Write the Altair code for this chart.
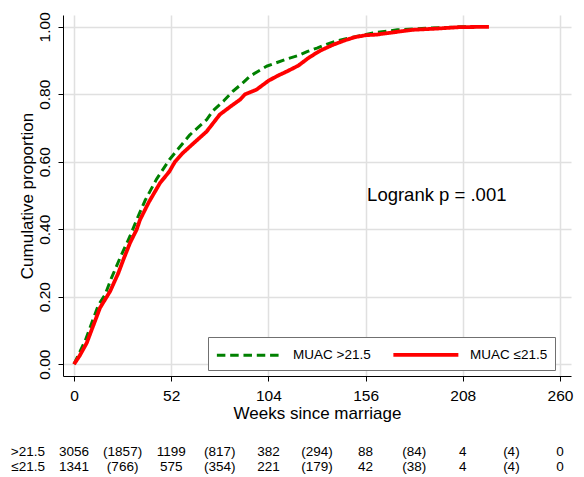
import altair as alt
import pandas as pd

groups = ["MUAC >21.5", "MUAC \u226421.5"]

green_weeks = [0, 3, 6, 10, 13, 16.6, 20, 25, 30, 33.5, 38, 44, 51, 56, 62, 67, 71, 74.5, 80, 85,
               90, 94, 99, 103, 108, 114, 120, 125, 130, 135, 140, 145, 150, 155, 160, 166, 173,
               182, 190, 200, 207, 215]
green_prop = [0, 0.035, 0.07, 0.13, 0.175, 0.206, 0.255, 0.32, 0.38, 0.428, 0.485, 0.547, 0.606,
              0.64, 0.68, 0.705, 0.725, 0.752, 0.78, 0.809, 0.832, 0.853, 0.87, 0.883, 0.893,
              0.905, 0.915, 0.927, 0.937, 0.948, 0.957, 0.964, 0.97, 0.976, 0.982, 0.986, 0.991,
              0.994, 0.996, 0.998, 1.0, 1.0]

red_weeks = [0, 3, 6.8, 10, 13.9, 19.3, 23.7, 26.4, 30, 33.5, 35.3, 40, 46, 51, 54, 58, 62, 67,
             71, 78, 84, 88.8, 91.5, 97.7, 104, 109, 114, 120, 126, 132, 138.7, 145, 150, 156,
             162, 170, 181, 195, 206, 222]
red_prop = [0, 0.025, 0.063, 0.11, 0.167, 0.216, 0.27, 0.31, 0.36, 0.399, 0.428, 0.48, 0.537,
            0.571, 0.6, 0.625, 0.645, 0.67, 0.69, 0.74, 0.765, 0.784, 0.8, 0.814, 0.84, 0.855,
            0.868, 0.885, 0.91, 0.93, 0.947, 0.96, 0.969, 0.975, 0.977, 0.983, 0.991, 0.995,
            0.999, 1.0]

x_ticks = [0, 52, 104, 156, 208, 260]
y_ticks = [0, 0.2, 0.4, 0.6, 0.8, 1.0]

risk_weeks = [0, 26, 52, 78, 104, 130, 156, 182, 208, 234, 260]
risk_row1 = ["3056", "(1857)", "1199", "(817)", "382", "(294)", "88", "(84)", "4", "(4)", "0"]
risk_row2 = ["1341", "(766)", "575", "(354)", "221", "(179)", "42", "(38)", "4", "(4)", "0"]

annot_text = ["Logrank p = .001"]
annot_x = [156.8]
annot_y = [0.502]

FONT = "Liberation Sans"
XDOM = [-5.9, 265.9]
YDOM = [-0.035, 1.035]

curve_df = pd.concat([
    pd.DataFrame({"weeks": green_weeks, "prop": green_prop, "group": groups[0]}),
    pd.DataFrame({"weeks": red_weeks, "prop": red_prop, "group": groups[1]}),
], ignore_index=True)

xscale = alt.Scale(domain=XDOM, nice=False, zero=False)
yscale = alt.Scale(domain=YDOM, nice=False, zero=False)

lines = alt.Chart(curve_df).mark_line(strokeJoin="round").encode(
    x=alt.X("weeks:Q", scale=xscale,
            axis=alt.Axis(values=x_ticks, title="Weeks since marriage", labelPadding=7,
                          titlePadding=2)),
    y=alt.Y("prop:Q", scale=yscale,
            axis=alt.Axis(values=y_ticks, format=".2f", title="Cumulative proportion",
                          labelAngle=270, labelAlign="center", labelBaseline="bottom",
                          labelPadding=6, titlePadding=1)),
    color=alt.Color("group:N", scale=alt.Scale(domain=groups, range=["#008000", "#ff0000"]),
                    legend=alt.Legend(title=None)),
    strokeDash=alt.StrokeDash("group:N", scale=alt.Scale(domain=groups, range=[[8.5, 4.8], [1, 0]]),
                              legend=alt.Legend(title=None)),
    strokeWidth=alt.StrokeWidth("group:N", scale=alt.Scale(domain=groups, range=[3, 3.8]),
                                legend=None),
    order="weeks:Q",
)

annot_df = pd.DataFrame({"weeks": annot_x, "prop": annot_y, "text": annot_text})
annot = alt.Chart(annot_df).mark_text(align="left", baseline="middle", fontSize=18.5,
                                      font=FONT, color="black").encode(
    x="weeks:Q", y="prop:Q", text="text:N")

r1_df = pd.DataFrame({"weeks": risk_weeks, "label": risk_row1})
r2_df = pd.DataFrame({"weeks": risk_weeks, "label": risk_row2})
row1 = alt.Chart(r1_df).mark_text(fontSize=13.5, font=FONT, color="black", baseline="middle").encode(
    x="weeks:Q", y=alt.value(436.7), text="label:N")
row2 = alt.Chart(r2_df).mark_text(fontSize=13.5, font=FONT, color="black", baseline="middle").encode(
    x="weeks:Q", y=alt.value(452), text="label:N")

lab_df1 = pd.DataFrame({"label": [groups[0]]})
lab_df2 = pd.DataFrame({"label": [groups[1]]})
lab1 = alt.Chart(lab_df1).mark_text(fontSize=13.5, font=FONT, color="black", align="right",
                                    baseline="middle").encode(
    x=alt.value(-18), y=alt.value(436.7), text="label:N")
lab2 = alt.Chart(lab_df2).mark_text(fontSize=13.5, font=FONT, color="black", align="right",
                                    baseline="middle").encode(
    x=alt.value(-18), y=alt.value(452), text="label:N")

chart = alt.layer(lines, annot, row1, row2, lab1, lab2).properties(
    width=508, height=361,
    autosize=alt.AutoSizeParams(type="none"),
    padding={"left": 55, "top": 7, "right": 5, "bottom": 101},
).configure_view(stroke=None).configure_axis(
    labelFont=FONT, titleFont=FONT, labelFontSize=15.5, titleFontSize=17,
    titleFontWeight="normal", labelColor="black", titleColor="black",
    domainColor="black", domainWidth=1, tickColor="black", tickSize=5, tickWidth=1,
    gridColor="#e0e0e0", gridWidth=1.5, labelOverlap=False, labelFlush=False,
).configure_legend(
    orient="none", legendX=145, legendY=322, direction="horizontal",
    strokeColor="#707070", fillColor="white", padding=7, symbolType="M-1,0H7",
    symbolSize=264, symbolStrokeWidth=3, labelFont=FONT, labelFontSize=13.5,
    labelColor="black", columnPadding=14, labelOffset=58,
)

chart.save("out.html", embed_options={"renderer": "svg", "actions": False})
